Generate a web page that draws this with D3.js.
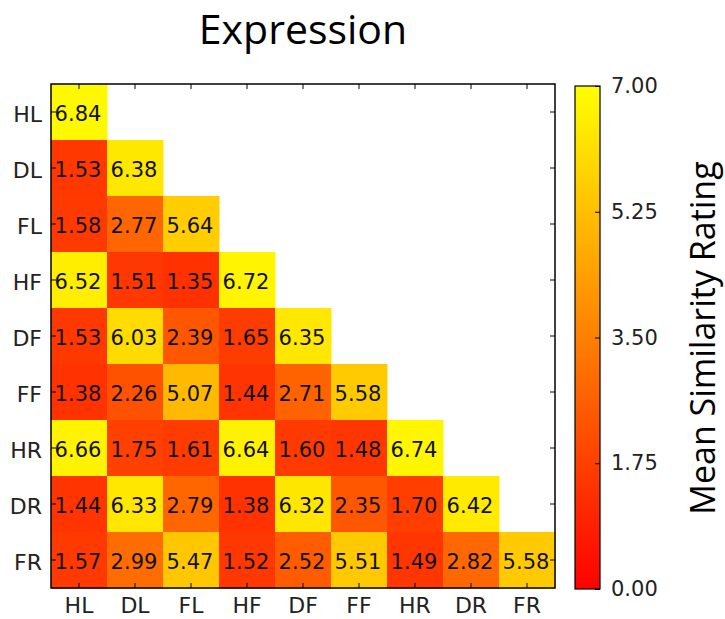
<!DOCTYPE html>
<html>
<head>
<meta charset="utf-8">
<script src="https://cdn.jsdelivr.net/npm/d3@7"></script>
<style>
  body { margin: 0; background: #fff; }
  svg { display: block; }
</style>
</head>
<body>
<div id="chart"></div>
<script>
// conditions, in row / column order
var labels = ["HL", "DL", "FL", "HF", "DF", "FF", "HR", "DR", "FR"];

// lower triangle of mean similarity ratings, one row per condition
var ratings = [
    [6.84],
    [1.53, 6.38],
    [1.58, 2.77, 5.64],
    [6.52, 1.51, 1.35, 6.72],
    [1.53, 6.03, 2.39, 1.65, 6.35],
    [1.38, 2.26, 5.07, 1.44, 2.71, 5.58],
    [6.66, 1.75, 1.61, 6.64, 1.60, 1.48, 6.74],
    [1.44, 6.33, 2.79, 1.38, 6.32, 2.35, 1.70, 6.42],
    [1.57, 2.99, 5.47, 1.52, 2.52, 5.51, 1.49, 2.82, 5.58]
];

var colorTicks = [0, 1.75, 3.5, 5.25, 7];

var svgWidth = 725;
var svgHeight = 619;

var plot = { left: 51, top: 84, size: 504 };
var bar = { left: 575, top: 86, width: 25, height: 503 };

var svg = d3.select("#chart")
    .append("svg")
    .attr("width", svgWidth)
    .attr("height", svgHeight);

var x = d3.scaleBand().domain(labels).range([plot.left, plot.left + plot.size]);
var y = d3.scaleBand().domain(labels).range([plot.top, plot.top + plot.size]);

// autumn colormap: red -> yellow
var color = d3.scaleSequential(d3.interpolateRgb("#ff0000", "#ffff00")).domain([0, 7]);

var cells = [];
ratings.forEach(function(row, i) {
    row.forEach(function(v, j) {
        cells.push({ row: labels[i], col: labels[j], value: v });
    });
});

svg.append("text")
    .attr("x", 303)
    .attr("y", 44)
    .attr("text-anchor", "middle")
    .style("font-family", "Open Sans")
    .style("font-size", "41px")
    .text("Expression");

var cellGroup = svg.append("g");

cellGroup.selectAll("rect")
    .data(cells)
    .enter()
    .append("rect")
    .attr("x", d => x(d.col))
    .attr("y", d => y(d.row))
    .attr("width", x.bandwidth() + 0.5)
    .attr("height", y.bandwidth() + 0.5)
    .attr("fill", d => color(d.value));

cellGroup.selectAll("text")
    .data(cells)
    .enter()
    .append("text")
    .attr("x", d => x(d.col) + x.bandwidth() / 2 - 1)
    .attr("y", d => y(d.row) + y.bandwidth() / 2 + 2)
    .attr("text-anchor", "middle")
    .attr("dominant-baseline", "central")
    .style("font-family", "DejaVu Sans")
    .style("font-size", "21px")
    .style("fill", "#111")
    .text(d => d.value.toFixed(2));

// inward ticks on all four sides
var tickLen = 5;
function styleAxis(g) {
    g.select(".domain").remove();
    g.selectAll(".tick line").attr("stroke", "#000").attr("stroke-width", 1);
    g.selectAll(".tick text")
        .style("font-family", "DejaVu Sans")
        .style("font-size", "22px")
        .style("fill", "#222");
}

svg.append("g")
    .attr("transform", `translate(${plot.left},0)`)
    .call(d3.axisLeft(y).tickSizeInner(-tickLen).tickSizeOuter(0).tickPadding(9))
    .call(styleAxis)
    .selectAll(".tick text").attr("dy", "0.45em");

svg.append("g")
    .attr("transform", `translate(${plot.left + plot.size},0)`)
    .call(d3.axisRight(y).tickSizeInner(-tickLen).tickSizeOuter(0).tickFormat(""))
    .call(styleAxis);

svg.append("g")
    .attr("transform", `translate(0,${plot.top + plot.size})`)
    .call(d3.axisBottom(x).tickSizeInner(-tickLen).tickSizeOuter(0).tickPadding(9))
    .call(styleAxis);

svg.append("g")
    .attr("transform", `translate(0,${plot.top})`)
    .call(d3.axisTop(x).tickSizeInner(-tickLen).tickSizeOuter(0).tickFormat(""))
    .call(styleAxis);

svg.append("rect")
    .attr("x", plot.left)
    .attr("y", plot.top)
    .attr("width", plot.size)
    .attr("height", plot.size)
    .attr("fill", "none")
    .attr("stroke", "#000")
    .attr("stroke-width", 1.5);

// colorbar
var defs = svg.append("defs");
var grad = defs.append("linearGradient")
    .attr("id", "autumn")
    .attr("x1", 0).attr("y1", 1)
    .attr("x2", 0).attr("y2", 0);
grad.append("stop").attr("offset", "0%").attr("stop-color", color(0));
grad.append("stop").attr("offset", "100%").attr("stop-color", color(7));

var cy = d3.scaleLinear().domain([0, 7]).range([bar.top + bar.height, bar.top]);

svg.append("rect")
    .attr("x", bar.left)
    .attr("y", bar.top)
    .attr("width", bar.width)
    .attr("height", bar.height)
    .attr("fill", "url(#autumn)")
    .attr("stroke", "#000")
    .attr("stroke-width", 1.2);

svg.append("g")
    .attr("transform", `translate(${bar.left + bar.width},0)`)
    .call(d3.axisRight(cy).tickValues(colorTicks).tickFormat(d3.format(".2f"))
        .tickSizeInner(-tickLen).tickSizeOuter(0).tickPadding(11))
    .call(styleAxis)
    .selectAll(".tick text").style("font-size", "21px");

svg.append("text")
    .attr("transform", "translate(715,338) rotate(-90)")
    .attr("text-anchor", "middle")
    .style("font-family", "Open Sans")
    .style("font-size", "34px")
    .text("Mean Similarity Rating");
</script>
</body>
</html>
